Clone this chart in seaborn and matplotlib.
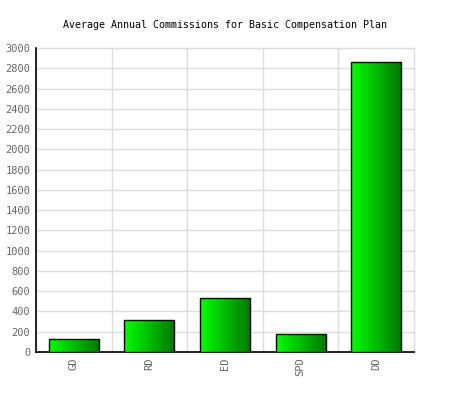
import numpy as np
import pandas as pd
import matplotlib
matplotlib.use("Agg")
import matplotlib.pyplot as plt
import seaborn as sns
from matplotlib.colors import LinearSegmentedColormap

categories = ["GD", "RD", "ED", "SPD", "DD"]
commissions = [130, 316, 533, 178, 2862]
yticks = list(range(0, 3001, 200))

df = pd.DataFrame({"plan": categories, "commission": commissions})

sns.set_style("white")
plt.rcParams["font.family"] = ["DejaVu Sans Mono"]

fig = plt.figure(figsize=(4.5, 4.0), dpi=100)
ax = fig.add_axes([0.08, 0.12, 0.84, 0.76])

sns.barplot(data=df, x="plan", y="commission", ax=ax, width=0.66,
            color="#00c000", edgecolor="black", linewidth=1.0, zorder=3)

# green gradient inside each bar
grad = LinearSegmentedColormap.from_list("g", ["#00ff00", "#007a00"])
img = np.linspace(0, 1, 256).reshape(1, -1)
for bar in ax.patches:
    x0, y0 = bar.get_x(), bar.get_y()
    w, h = bar.get_width(), bar.get_height()
    im = ax.imshow(img, cmap=grad, aspect="auto", zorder=3.5,
                   extent=[x0, x0 + w, y0, y0 + h])
    im.set_clip_path(bar)
    bar.set_facecolor("none")
    bar.set_zorder(4)

ax.set_xlim(-0.5, 4.5)
ax.set_ylim(0, 3000)
ax.set_yticks(yticks)
ax.set_xticks(range(len(categories)))
ax.set_xticklabels(categories, rotation=90)
ax.set_xticks(np.arange(-0.5, 5, 1), minor=True)
ax.tick_params(axis="x", which="minor", length=0)
ax.tick_params(axis="both", which="major", length=0, labelsize=7.5,
               labelcolor="#666666", pad=4)

ax.grid(axis="y", which="major", color="#dddddd", linewidth=1, zorder=0)
ax.grid(axis="x", which="minor", color="#dddddd", linewidth=1, zorder=0)
ax.set_axisbelow(True)

for s in ["top", "right"]:
    ax.spines[s].set_visible(False)
ax.spines["left"].set_color("black")
ax.spines["bottom"].set_color("black")
ax.spines["left"].set_linewidth(1.2)
ax.spines["bottom"].set_linewidth(1.2)

ax.set_xlabel("")
ax.set_ylabel("")
fig.suptitle("Average Annual Commissions for Basic Compensation Plan",
             y=0.95, fontsize=7.2, color="black")

# keep the edge grid lines (top and right) visible
for t in ax.xaxis.get_minor_ticks() + ax.yaxis.get_major_ticks():
    t.gridline.set_clip_on(False)

fig.savefig("out.png", dpi=100)
